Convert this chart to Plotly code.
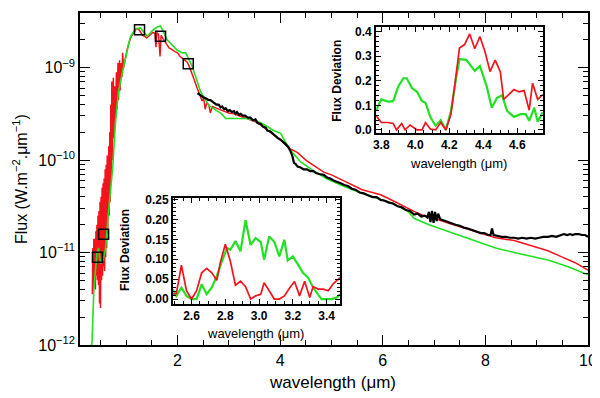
import numpy as np
import plotly.graph_objects as go

# main spectrum (wavelength in micron, log10 of flux in W m-2 um-1)
red_wl = [0.34, 0.35, 0.36, 0.37, 0.38, 0.39, 0.40, 0.41, 0.42, 0.43, 0.44, 0.45, 0.46, 0.47,
          0.48, 0.49, 0.50, 0.51, 0.52, 0.53, 0.54, 0.55, 0.56, 0.57, 0.58, 0.59, 0.60, 0.61,
          0.62, 0.63, 0.64, 0.66, 0.67, 0.68, 0.69, 0.70, 0.71, 0.72, 0.73, 0.75, 0.76, 0.78,
          0.79, 0.81, 0.82, 0.84, 0.85, 0.87, 0.88, 0.90, 0.92, 0.93, 0.95, 0.98, 1.02, 1.06,
          1.10, 1.15, 1.20, 1.24, 1.28, 1.32, 1.36, 1.40, 1.44, 1.48, 1.52, 1.56, 1.58, 1.60,
          1.63, 1.66, 1.68, 1.72, 1.76, 1.80, 1.84, 1.88, 1.92, 1.96, 2.00, 2.05, 2.10, 2.15,
          2.19, 2.24, 2.30, 2.35, 2.39, 2.44, 2.48, 2.51, 2.54, 2.57, 2.61, 2.64, 2.68, 2.72,
          2.80, 2.90, 3.00, 3.10, 3.20, 3.30, 3.40, 3.50, 3.60, 3.70, 3.80, 3.90, 4.00, 4.10,
          4.20, 4.34, 4.50, 4.66, 4.85, 5.00, 5.18, 5.40, 5.60, 5.80, 5.96, 6.20, 6.40,
          6.61, 6.80, 7.00, 7.27, 7.50, 7.70, 7.91, 8.20, 8.56, 8.90, 9.22, 9.50, 9.75, 10.0]
red_logflux = [-11.45, -10.95, -11.40, -10.85, -11.30, -10.85, -11.40, -10.77, -11.25, -10.70,
               -11.30, -10.60, -11.35, -10.55, -11.55, -10.45, -11.60, -10.40, -11.30, -10.30,
               -11.25, -10.25, -11.15, -10.20, -11.20, -10.10, -11.05, -10.05, -10.95, -9.95,
               -10.80, -9.85, -10.60, -9.70, -10.45, -9.40, -10.25, -9.15, -10.00, -9.11,
               -9.76, -9.20, -9.55, -9.05, -9.45, -8.95, -9.35, -8.92, -9.25, -8.95, -9.10,
               -8.84, -9.00, -8.90, -8.80, -8.72, -8.66, -8.62, -8.58, -8.58, -8.61, -8.65,
               -8.66, -8.68, -8.66, -8.64, -8.62, -8.63, -8.78, -8.62, -8.64, -8.88, -8.65,
               -8.69, -8.72, -8.76, -8.79, -8.80, -8.82, -8.83, -8.84, -8.88, -8.90, -8.92,
               -8.94, -9.00, -9.10, -9.18, -9.23, -9.30, -9.36, -9.33, -9.45, -9.38, -9.40,
               -9.49, -9.42, -9.43, -9.45, -9.47, -9.49, -9.50, -9.52, -9.54, -9.56, -9.58,
               -9.61, -9.65, -9.70, -9.74, -9.78, -9.83, -9.88, -9.92, -10.00, -10.06,
               -10.13, -10.16, -10.21, -10.27, -10.32, -10.35, -10.375, -10.44, -10.50,
               -10.555, -10.60, -10.63, -10.68, -10.72, -10.76, -10.79, -10.84, -10.87,
               -10.93, -10.98, -11.05, -11.11, -11.19]

green_wl = [0.28, 0.335, 0.37, 0.40, 0.43, 0.46, 0.50, 0.55, 0.60, 0.64, 0.69, 0.74, 0.79, 0.85,
            0.95, 1.08, 1.18, 1.28, 1.41, 1.51, 1.60, 1.67, 1.80, 1.99, 2.10, 2.16, 2.29, 2.45,
            2.61, 2.78, 2.86, 2.94, 3.15, 3.36, 3.56, 3.70, 3.87, 4.01, 4.10, 4.20, 4.40, 4.66,
            4.90, 5.18, 5.50, 5.96, 6.20, 6.49, 6.61, 6.90, 7.27, 7.60, 7.91, 8.20, 8.56, 8.90,
            9.22, 9.60, 10.0]
green_logflux = [-12.2, -11.96, -11.40, -11.19, -11.01, -10.95, -11.12, -11.08, -10.95, -10.66,
                 -10.38, -10.06, -9.60, -9.26, -8.99, -8.67, -8.58, -8.57, -8.66, -8.60, -8.56,
                 -8.55, -8.70, -8.81, -8.84, -8.84, -8.99, -9.26, -9.41, -9.465, -9.50, -9.55,
                 -9.55, -9.55, -9.58, -9.62, -9.68, -9.71, -9.80, -9.89, -10.02, -10.12,
                 -10.20, -10.27, -10.34, -10.42, -10.47, -10.555, -10.63, -10.70, -10.77,
                 -10.83, -10.89, -10.95, -11.00, -11.04, -11.08, -11.15, -11.24]

black_wl = [2.39, 2.45, 2.50, 2.55, 2.60, 2.64, 2.68, 2.72, 2.76, 2.80, 2.84, 2.87, 2.91, 2.94,
            2.98, 3.02, 3.06, 3.10, 3.13, 3.16, 3.20, 3.23, 3.27, 3.32, 3.37, 3.42, 3.47, 3.52,
            3.56, 3.62, 3.67, 3.72, 3.75, 3.81, 3.88, 3.95, 4.01, 4.06, 4.11, 4.16, 4.20, 4.24,
            4.27, 4.30, 4.34, 4.40, 4.46, 4.52, 4.59, 4.65, 4.70, 4.76, 4.85, 4.92, 4.98, 5.04,
            5.10, 5.18, 5.25, 5.32, 5.40, 5.47, 5.55, 5.63, 5.71, 5.80, 5.88, 5.96, 6.04, 6.12,
            6.20, 6.29, 6.37, 6.45, 6.53, 6.61, 6.68, 6.75, 6.82, 6.87, 6.90, 6.93, 6.96, 6.99,
            7.02, 7.05, 7.08, 7.12, 7.18, 7.27, 7.34, 7.42, 7.50, 7.58, 7.66, 7.75, 7.83, 7.91,
            7.98, 8.05, 8.10, 8.13, 8.16, 8.24, 8.32, 8.40, 8.48, 8.56, 8.64, 8.72, 8.80, 8.89,
            8.97, 9.05, 9.13, 9.22, 9.30, 9.38, 9.46, 9.53, 9.60, 9.65, 9.70, 9.75, 9.82, 9.88,
            9.94, 10.0]
black_logflux = [-9.275, -9.30, -9.32, -9.33, -9.35, -9.35, -9.37, -9.38, -9.40, -9.40, -9.43,
                 -9.42, -9.45, -9.44, -9.47, -9.46, -9.48, -9.47, -9.50, -9.48, -9.51, -9.50,
                 -9.52, -9.52, -9.54, -9.54, -9.57, -9.56, -9.60, -9.61, -9.64, -9.65, -9.68,
                 -9.69, -9.73, -9.76, -9.78, -9.80, -9.83, -9.86, -9.90, -9.96, -10.03,
                 -10.04, -10.07, -10.08, -10.10, -10.10, -10.12, -10.12, -10.14, -10.15,
                 -10.16, -10.19, -10.20, -10.22, -10.23, -10.25, -10.27, -10.28, -10.31,
                 -10.32, -10.35, -10.36, -10.38, -10.40, -10.40, -10.43, -10.44, -10.46,
                 -10.47, -10.50, -10.51, -10.54, -10.55, -10.59, -10.58, -10.61, -10.60,
                 -10.62, -10.56, -10.67, -10.55, -10.68, -10.56, -10.66, -10.58, -10.64,
                 -10.65, -10.67, -10.68, -10.70, -10.71, -10.73, -10.74, -10.76, -10.77,
                 -10.79, -10.79, -10.81, -10.81, -10.74, -10.81, -10.82, -10.83, -10.83,
                 -10.84, -10.84, -10.85, -10.84, -10.85, -10.84, -10.85, -10.84, -10.83,
                 -10.83, -10.82, -10.83, -10.81, -10.80, -10.81, -10.80, -10.81, -10.80,
                 -10.80, -10.81, -10.81, -10.83]

phot_wl = [0.44, 0.56, 1.26, 1.67, 2.21]
phot_flux = [8.9e-12, 1.58e-11, 2.57e-9, 2.18e-9, 1.10e-9]

# inset 1: 3.77 - 4.75 micron
in1_wl_green = [3.77, 3.80, 3.84, 3.87, 3.90, 3.93, 3.95, 3.98, 4.01, 4.04, 4.06, 4.09, 4.12,
                4.15, 4.18, 4.21, 4.24, 4.26, 4.30, 4.33, 4.35, 4.38, 4.42, 4.45, 4.48, 4.51,
                4.54, 4.58, 4.62, 4.65, 4.67, 4.70, 4.72, 4.75]
in1_dev_green = [0.08, 0.124, 0.115, 0.117, 0.177, 0.21, 0.21, 0.17, 0.155, 0.117, 0.11, 0.05,
                 0.017, 0.04, 0.0, 0.077, 0.21, 0.288, 0.285, 0.26, 0.24, 0.26, 0.177, 0.09,
                 0.13, 0.141, 0.077, 0.053, 0.064, 0.064, 0.037, 0.09, 0.033, 0.073]
in1_wl_red = [3.77, 3.80, 3.84, 3.87, 3.89, 3.92, 3.94, 3.97, 4.01, 4.04, 4.06, 4.09, 4.12,
              4.15, 4.18, 4.21, 4.24, 4.26, 4.29, 4.32, 4.35, 4.38, 4.41, 4.44, 4.47, 4.50,
              4.52, 4.55, 4.58, 4.61, 4.64, 4.67, 4.69, 4.72, 4.75]
in1_dev_red = [0.057, 0.03, 0.03, 0.026, 0.0, 0.026, 0.0, 0.02, 0.0, 0.0, 0.03, 0.003, 0.0,
               0.03, 0.0, 0.064, 0.224, 0.333, 0.347, 0.39, 0.33, 0.38, 0.318, 0.237, 0.284,
               0.237, 0.124, 0.144, 0.164, 0.155, 0.16, 0.08, 0.19, 0.124, 0.144]

# inset 2: 2.49 - 3.48 micron
in2_wl_green = [2.487, 2.51, 2.54, 2.57, 2.60, 2.63, 2.66, 2.69, 2.72, 2.75, 2.78, 2.81, 2.83,
                2.86, 2.89, 2.92, 2.95, 2.98, 3.01, 3.03, 3.06, 3.09, 3.12, 3.15, 3.17, 3.20,
                3.23, 3.26, 3.29, 3.32, 3.35, 3.37, 3.40, 3.43, 3.46, 3.48]
in2_dev_green = [0.025, 0.008, 0.029, 0.008, 0.0, 0.0, 0.037, 0.012, 0.029, 0.058, 0.095, 0.128,
                 0.124, 0.146, 0.12, 0.198, 0.136, 0.153, 0.143, 0.099, 0.157, 0.144, 0.107,
                 0.149, 0.097, 0.107, 0.087, 0.066, 0.054, 0.029, 0.011, 0.0, 0.0, 0.0, 0.004,
                 0.012]
in2_wl_red = [2.487, 2.51, 2.54, 2.57, 2.60, 2.63, 2.66, 2.69, 2.72, 2.75, 2.77, 2.80, 2.83,
              2.86, 2.89, 2.92, 2.95, 2.98, 3.01, 3.03, 3.06, 3.09, 3.12, 3.15, 3.18, 3.21,
              3.24, 3.27, 3.30, 3.32, 3.35, 3.38, 3.41, 3.44, 3.48]
in2_dev_red = [0.012, 0.014, 0.085, 0.021, 0.0, 0.021, 0.066, 0.077, 0.066, 0.047, 0.091,
               0.138, 0.095, 0.035, 0.045, 0.031, 0.0, 0.008, 0.012, 0.041, 0.021, 0.0, 0.0,
               0.008, 0.027, 0.044, 0.008, 0.045, 0.004, 0.031, 0.025, 0.025, 0.021, 0.039,
               0.054]

RED = "#f2141c"
GREEN = "#22e022"
FONT = "Liberation Sans"

fig = go.Figure()

fig.add_trace(go.Scatter(x=red_wl, y=10 ** np.array(red_logflux), mode="lines",
                         line=dict(color=RED, width=1.5), xaxis="x", yaxis="y"))
fig.add_trace(go.Scatter(x=green_wl, y=10 ** np.array(green_logflux), mode="lines",
                         line=dict(color=GREEN, width=1.6), xaxis="x", yaxis="y"))
fig.add_trace(go.Scatter(x=black_wl, y=10 ** np.array(black_logflux), mode="lines",
                         line=dict(color="black", width=2.2), xaxis="x", yaxis="y"))
fig.add_trace(go.Scatter(x=phot_wl, y=phot_flux, mode="markers",
                         marker=dict(symbol="square-open", size=10, color="black",
                                     line=dict(width=1.5)), xaxis="x", yaxis="y"))

fig.add_trace(go.Scatter(x=in1_wl_green, y=in1_dev_green, mode="lines",
                         line=dict(color=GREEN, width=2.2), xaxis="x2", yaxis="y2"))
fig.add_trace(go.Scatter(x=in1_wl_red, y=in1_dev_red, mode="lines",
                         line=dict(color=RED, width=1.7), xaxis="x2", yaxis="y2"))
fig.add_trace(go.Scatter(x=in2_wl_green, y=in2_dev_green, mode="lines",
                         line=dict(color=GREEN, width=2.2), xaxis="x3", yaxis="y3"))
fig.add_trace(go.Scatter(x=in2_wl_red, y=in2_dev_red, mode="lines",
                         line=dict(color=RED, width=1.7), xaxis="x3", yaxis="y3"))

minor_log = [m * 10.0 ** e for e in (-12, -11, -10, -9) for m in range(2, 10)]
frame = dict(showline=True, linecolor="black", mirror="ticks", ticks="inside",
             tickcolor="black", showgrid=False, zeroline=False)
inset_tick = dict(size=12, family=FONT, weight="bold")

# the page body has an 8px margin, so the figure is 8px smaller than the window
fig.update_layout(
    width=592, height=390,
    margin=dict(l=72, r=12, t=0, b=53),
    paper_bgcolor="white", plot_bgcolor="white",
    showlegend=False,
    font=dict(family=FONT, color="black"),
    xaxis=dict(domain=[0, 1], range=[0.1, 10], tickvals=[2, 4, 6, 8, 10],
               ticklen=10, linewidth=1.5, tickfont=dict(size=16),
               minor=dict(dtick=0.5, tick0=0, ticklen=5, ticks="inside", tickcolor="black"),
               anchor="y", **frame),
    yaxis=dict(domain=[0, 1], type="log", range=[-12, np.log10(3.9e-9)],
               tickvals=[1e-12, 1e-11, 1e-10, 1e-9],
               ticktext=["10<sup>\u221212</sup>", "10<sup>\u221211</sup>",
                         "10<sup>\u221210</sup>", "10<sup>\u22129</sup>"],
               ticklen=10, linewidth=1.5, tickfont=dict(size=16),
               minor=dict(tickvals=minor_log, ticklen=5, ticks="inside", tickcolor="black"),
               anchor="x", **frame),
    xaxis2=dict(domain=[0.583, 0.911], range=[3.77, 4.75], dtick=0.2, tick0=0,
                tickformat=".1f", ticklen=5, linewidth=2, tickfont=inset_tick,
                minor=dict(dtick=0.05, tick0=0, ticklen=3, ticks="inside", tickcolor="black"),
                anchor="y2", **frame),
    yaxis2=dict(domain=[0.639, 0.959], range=[-0.012, 0.42], dtick=0.1, tick0=0,
                tickformat=".1f", ticklen=5, linewidth=2, tickfont=inset_tick,
                minor=dict(dtick=0.02, tick0=0, ticklen=3, ticks="inside", tickcolor="black"),
                anchor="x2", **frame),
    xaxis3=dict(domain=[0.183, 0.512], range=[2.49, 3.48], dtick=0.2, tick0=0,
                tickformat=".1f", ticklen=5, linewidth=2, tickfont=inset_tick,
                minor=dict(dtick=0.05, tick0=0, ticklen=3, ticks="inside", tickcolor="black"),
                anchor="y3", **frame),
    yaxis3=dict(domain=[0.124, 0.444], range=[-0.012, 0.255], dtick=0.05, tick0=0,
                tickformat=".2f", ticklen=5, linewidth=2, tickfont=inset_tick,
                minor=dict(dtick=0.01, tick0=0, ticklen=3, ticks="inside", tickcolor="black"),
                anchor="x3", **frame),
)

labels = [
    ("Flux (W.m<sup>\u22122</sup>.\u03bcm<sup>\u22121</sup>)", -0.118, 0.50, -90, 16, "normal"),
    ("wavelength (\u03bcm)", 0.498, -0.112, 0, 17, "normal"),
    ("Flux Deviation", 0.506, 0.796, -90, 12, "bold"),
    ("wavelength (\u03bcm)", 0.746, 0.547, 0, 13, "normal"),
    ("Flux Deviation", 0.089, 0.287, -90, 12, "bold"),
    ("wavelength (\u03bcm)", 0.346, 0.036, 0, 13, "normal"),
]
for text, x, y, angle, size, weight in labels:
    fig.add_annotation(text=text, x=x, y=y, xref="paper", yref="paper", showarrow=False,
                       textangle=angle, font=dict(size=size, family=FONT, weight=weight),
                       xanchor="center", yanchor="middle")

fig.write_html("out.html")
